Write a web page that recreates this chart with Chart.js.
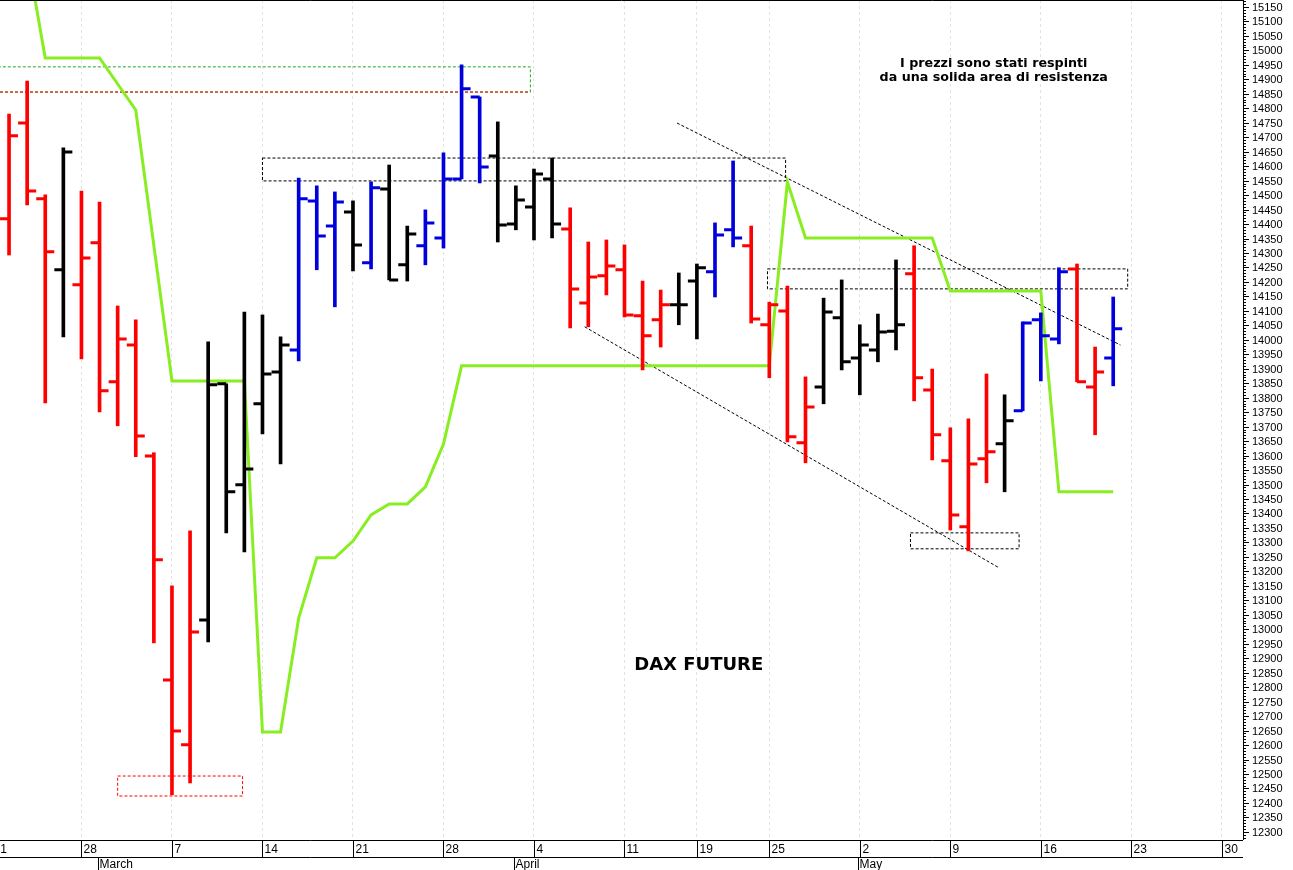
<!DOCTYPE html>
<html>
<head>
<meta charset="utf-8">
<script src="https://cdn.jsdelivr.net/npm/chart.js@4"></script>
<style>
  body { margin: 0; background: #fff; }
  #wrap { width: 1293px; height: 870px; position: relative; overflow: hidden; }
</style>
</head>
<body>
<div id="wrap"><canvas id="chart" width="1293" height="870"></canvas></div>
<script>
// trading days, Feb 21 2022 -> May 20 2022 (index = position on x axis)
const days = ['02-21','02-22','02-23','02-24','02-25','02-28','03-01','03-02','03-03','03-04',
  '03-07','03-08','03-09','03-10','03-11','03-14','03-15','03-16','03-17','03-18',
  '03-21','03-22','03-23','03-24','03-25','03-28','03-29','03-30','03-31','04-01',
  '04-04','04-05','04-06','04-07','04-08','04-11','04-12','04-13','04-14','04-19',
  '04-20','04-21','04-22','04-25','04-26','04-27','04-28','04-29','05-02','05-03',
  '05-04','05-05','05-06','05-09','05-10','05-11','05-12','05-13','05-16','05-17',
  '05-18','05-19','05-20'];

// OHLC (index 0 only has its close visible at the edge)
const opens  = [14400,14418,14749,14487,14242,14190,14335,13855,13982,13599,12825,12601,13032,13848,13499,13779,13889,13965,14480,14393,14442,14266,14521,14259,14325,14352,14556,14839,14635,14400,14459,14556,14383,14127,14221,14242,14083,14069,14121,14203,14235,14380,14325,14052,14100,13644,13837,14076,13937,13965,14030,14228,13827,13582,13354,13589,13641,13755,14069,14003,14245,13837,13937];
const highs  = [14600,14780,14894,14501,14663,14514,14476,14117,14069,13610,13150,13340,13993,13848,14096,14086,14010,14559,14532,14511,14480,14546,14604,14393,14449,14646,14950,14839,14753,14532,14590,14628,14456,14338,14345,14328,14203,14172,14231,14262,14404,14618,14393,14130,14186,13872,14144,14207,14052,14089,14276,14325,13899,13696,13727,13882,13810,14062,14093,14249,14262,13975,14148];
const lows   = [14300,14293,14466,13782,14010,13934,13751,13703,13596,12953,12428,12469,12956,13333,13267,13675,13571,13927,14242,14114,14238,14245,14207,14203,14259,14317,14556,14542,14338,14380,14345,14352,14041,14045,14155,14079,13896,13975,14052,14003,14148,14321,14058,13869,13647,13575,13779,13896,13810,13924,13965,13789,13585,13343,13271,13506,13475,13755,13858,13986,13855,13672,13841];
const closes = [14466,14705,14514,14304,14649,14283,13824,14003,13668,13240,12649,12991,13845,13475,13554,13882,13982,14487,14359,14476,14328,14525,14207,14366,14404,14556,14867,14597,14397,14483,14573,14400,14176,14217,14255,14086,14014,14121,14121,14249,14362,14352,14072,14121,13665,13768,14096,13924,13982,14027,14052,13869,13672,13395,13571,13613,13720,14058,14014,14235,13855,13889,14038];
// bar colour signal: r = red, k = black, b = blue
const signal = 'rrrrkrrrrrrrkkkkkbbbkbkkbbbbkkkkrrrrrrkkbbrrrrkkkkkrrrrrkbbbrrb';

// green stop line (null = straight segment between neighbours)
const stopLine = [null,null,15330,14974,null,null,14974,null,14794,null,13858,null,null,null,13858,12645,12645,13039,13247,13247,13305,13395,13433,13433,13492,13640,13910,
  null,null,null,null,null,null,null,null,null,null,null,null,null,null,null,null,13910,14545,14352,null,null,null,null,null,null,14352,14169,null,null,null,null,14169,13475,null,null,13475];

const weekIdx = [0,5,10,15,20,25,30,35,39,43,48,53,58,63,68];
const weekLabels = ['21','28','7','14','21','28','4','11','19','25','2','9','16','23','30'];
const monthIdx = [6,29,48];
const monthLabels = ['March','April','May'];

// dashed boxes [x0, x1, yTop, yBottom, colour]
const boxes = [
  [-1, 29.8, 14943, 14856, '#2a2'],
  [7.0, 13.9, 12493, 12424, '#f00'],
  [15.0, 43.9, 14628, 14549, '#000'],
  [42.9, 62.8, 14245, 14176, '#000'],
  [50.8, 56.8, 13333, 13278, '#000']
];
const trendLines = [[37.9, 14749, 62.4, 13982], [32.8, 14045, 55.7, 13212]];

const colorOf = { r: '#ff0000', k: '#000000', b: '#0000dd' };

const ohlcPlugin = {
  id: 'ohlc',
  beforeDatasetsDraw(chart) {
    const { ctx, chartArea: a, scales: { x, y } } = chart;
    ctx.save();
    ctx.beginPath(); ctx.rect(a.left, a.top, a.right - a.left, a.bottom - a.top); ctx.clip();
    ctx.lineWidth = 1;
    ctx.setLineDash([3, 2]);
    boxes.forEach(([x0, x1, t, b, c]) => {
      ctx.strokeStyle = c;
      ctx.strokeRect(x.getPixelForValue(x0), y.getPixelForValue(t), x.getPixelForValue(x1) - x.getPixelForValue(x0), y.getPixelForValue(b) - y.getPixelForValue(t));
    });
    // red line under the green box
    ctx.strokeStyle = '#f00';
    ctx.beginPath();
    ctx.moveTo(a.left, y.getPixelForValue(14856)); ctx.lineTo(x.getPixelForValue(29.8), y.getPixelForValue(14856));
    ctx.stroke();
    ctx.strokeStyle = '#000';
    trendLines.forEach(([i0, v0, i1, v1]) => {
      ctx.beginPath();
      ctx.moveTo(x.getPixelForValue(i0), y.getPixelForValue(v0));
      ctx.lineTo(x.getPixelForValue(i1), y.getPixelForValue(v1));
      ctx.stroke();
    });
    ctx.restore();
  },
  afterDatasetsDraw(chart) {
    const { ctx, chartArea: a, scales: { x, y } } = chart;
    ctx.save();
    ctx.beginPath(); ctx.rect(a.left, a.top, a.right - a.left, a.bottom - a.top); ctx.clip();
    ctx.lineWidth = 3;
    days.forEach((d, i) => {
      const px = x.getPixelForValue(i);
      ctx.strokeStyle = colorOf[signal[i]];
      ctx.beginPath();
      ctx.moveTo(px - 9, y.getPixelForValue(opens[i])); ctx.lineTo(px, y.getPixelForValue(opens[i]));
      ctx.moveTo(px, y.getPixelForValue(closes[i])); ctx.lineTo(px + 9, y.getPixelForValue(closes[i]));
      ctx.stroke();
    });
    ctx.restore();
  },
  afterDraw(chart) {
    const { ctx, chartArea: a, scales: { x, y } } = chart;
    ctx.save();
    ctx.strokeStyle = '#000';
    ctx.lineWidth = 1;
    // frame
    ctx.beginPath();
    ctx.moveTo(0, a.top + 0.5); ctx.lineTo(a.right, a.top + 0.5);
    ctx.moveTo(a.right + 0.5, 0); ctx.lineTo(a.right + 0.5, a.bottom);
    ctx.moveTo(0, a.bottom + 0.5); ctx.lineTo(a.right, a.bottom + 0.5);
    ctx.moveTo(0, a.bottom + 17.5); ctx.lineTo(a.right, a.bottom + 17.5);
    ctx.stroke();
    // price ticks and labels
    ctx.fillStyle = '#000';
    ctx.font = '11px "Liberation Sans", Arial';
    ctx.textBaseline = 'middle';
    ctx.beginPath();
    for (let v = 12280; v <= 15170; v += 10) {
      const py = Math.round(y.getPixelForValue(v)) + 0.5;
      ctx.moveTo(a.right, py); ctx.lineTo(a.right + (v % 50 === 0 ? 6 : 3), py);
      if (v % 50 === 0) ctx.fillText(String(v), a.right + 9, py);
    }
    ctx.stroke();
    // date row
    ctx.font = '12px "Liberation Sans", Arial';
    weekIdx.forEach((i, k) => {
      const px = Math.round(x.getPixelForValue(i)) + 0.5;
      ctx.beginPath(); ctx.moveTo(px, a.bottom); ctx.lineTo(px, a.bottom + 17); ctx.stroke();
      ctx.fillText(weekLabels[k], px + 2, a.bottom + 10);
    });
    monthIdx.forEach((i, k) => {
      const px = Math.round(x.getPixelForValue(i - 0.1)) + 0.5;
      ctx.beginPath(); ctx.moveTo(px, a.bottom + 17); ctx.lineTo(px, a.bottom + 30); ctx.stroke();
      ctx.fillText(monthLabels[k], px + 1, a.bottom + 25);
    });
    // notes
    ctx.font = 'bold 12.7px "DejaVu Sans"';
    ctx.textAlign = 'center';
    ctx.fillText('I prezzi sono stati respinti', x.getPixelForValue(55.4), y.getPixelForValue(14955));
    ctx.fillText('da una solida area di resistenza', x.getPixelForValue(55.4), y.getPixelForValue(14905));
    ctx.font = 'bold 18px "DejaVu Sans"';
    ctx.fillText('DAX FUTURE', x.getPixelForValue(39.1), y.getPixelForValue(12875));
    ctx.restore();
  }
};

new Chart(document.getElementById('chart'), {
  type: 'bar',
  data: {
    datasets: [
      {
        type: 'line',
        data: stopLine.map((v, i) => ({ x: i, y: v })),
        borderColor: '#88ee22',
        borderWidth: 3,
        pointRadius: 0,
        spanGaps: true,
        tension: 0,
        order: 2
      },
      {
        data: days.map((d, i) => ({ x: i, y: [lows[i], highs[i]] })),
        backgroundColor: days.map((d, i) => colorOf[signal[i]]),
        barThickness: 3,
        grouped: false,
        order: 1
      }
    ]
  },
  options: {
    responsive: false,
    animation: false,
    layout: { padding: 0 },
    plugins: { legend: { display: false }, tooltip: { enabled: false } },
    scales: {
      x: {
        type: 'linear',
        offset: false,
        min: 0.5,
        max: 69.17,
        afterBuildTicks: s => { s.ticks = weekIdx.map(v => ({ value: v })); },
        afterFit: s => { s.height = 30; },
        grid: { color: '#e2e2e2', tickLength: 0, drawTicks: false, offset: false },
        border: { display: false, dash: [3, 3] },
        ticks: { display: false }
      },
      y: {
        position: 'right',
        min: 12272,
        max: 15174,
        afterFit: s => { s.width = 50; },
        grid: { display: false },
        border: { display: false },
        ticks: { display: false }
      }
    }
  },
  plugins: [ohlcPlugin]
});
</script>
</body>
</html>
